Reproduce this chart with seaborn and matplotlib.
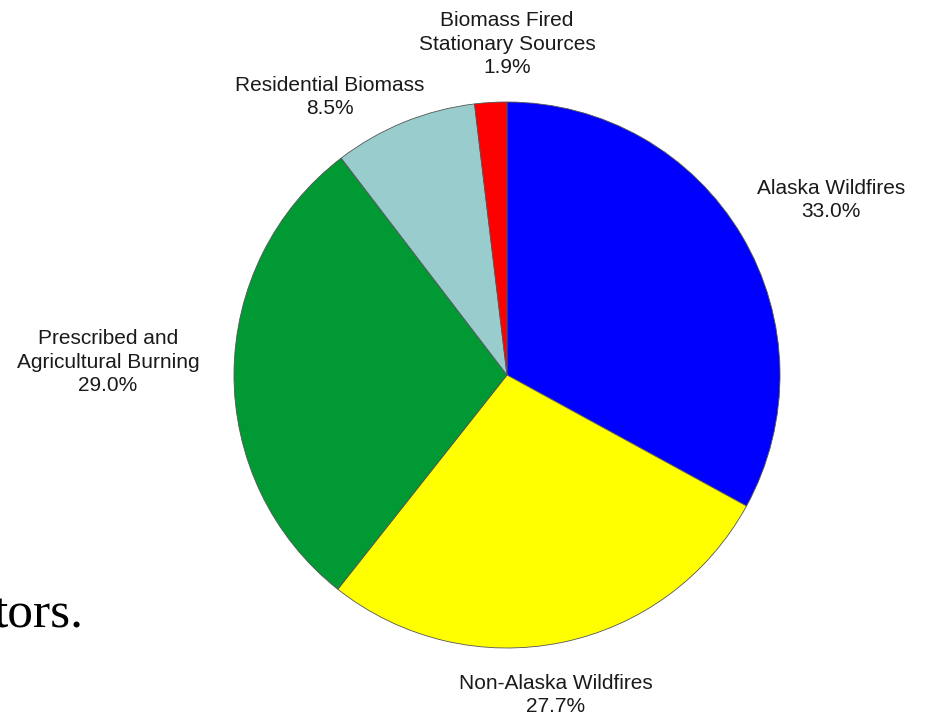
import matplotlib
matplotlib.use("Agg")
import matplotlib.pyplot as plt
import seaborn as sns

labels = [
    "Alaska Wildfires",
    "Non-Alaska Wildfires",
    "Prescribed and\nAgricultural Burning",
    "Residential Biomass",
    "Biomass Fired\nStationary Sources",
]
shares = [33.0, 27.7, 29.0, 8.5, 1.9]
colors = ["#0000FF", "#FFFF00", "#009933", "#99CCCC", "#FF0000"]

# label centres in pixels (x, y from top)
label_pos = [(831, 200), (556, 695), (108, 362), (330, 97), (507, 44)]

W, H = 926, 717

sns.set_style("white")
plt.rcParams["font.family"] = ["Liberation Sans", "DejaVu Sans"]

fig = plt.figure(figsize=(W / 100, H / 100), dpi=100)
cx, cy, r = 507, 375, 273
ax = fig.add_axes([(cx - r) / W, (H - cy - r) / H, 2 * r / W, 2 * r / H])
ax.pie(
    shares,
    colors=colors,
    startangle=90,
    counterclock=False,
    radius=1,
    wedgeprops=dict(edgecolor="#555555", linewidth=0.6),
)
ax.set_xlim(-1, 1)
ax.set_ylim(-1, 1)
ax.axis("off")

for lab, val, (px, py) in zip(labels, shares, label_pos):
    fig.text(px / W, 1 - py / H, f"{lab}\n{val:.1f}%", ha="center", va="center",
             fontsize=15, color="#1a1a1a", linespacing=1.28)

fig.text(83 / W, 1 - 627 / H, "tors.", ha="right", va="baseline",
         fontsize=37, family=["Liberation Serif", "DejaVu Serif"], color="black")

fig.savefig("out.png", dpi=100)
